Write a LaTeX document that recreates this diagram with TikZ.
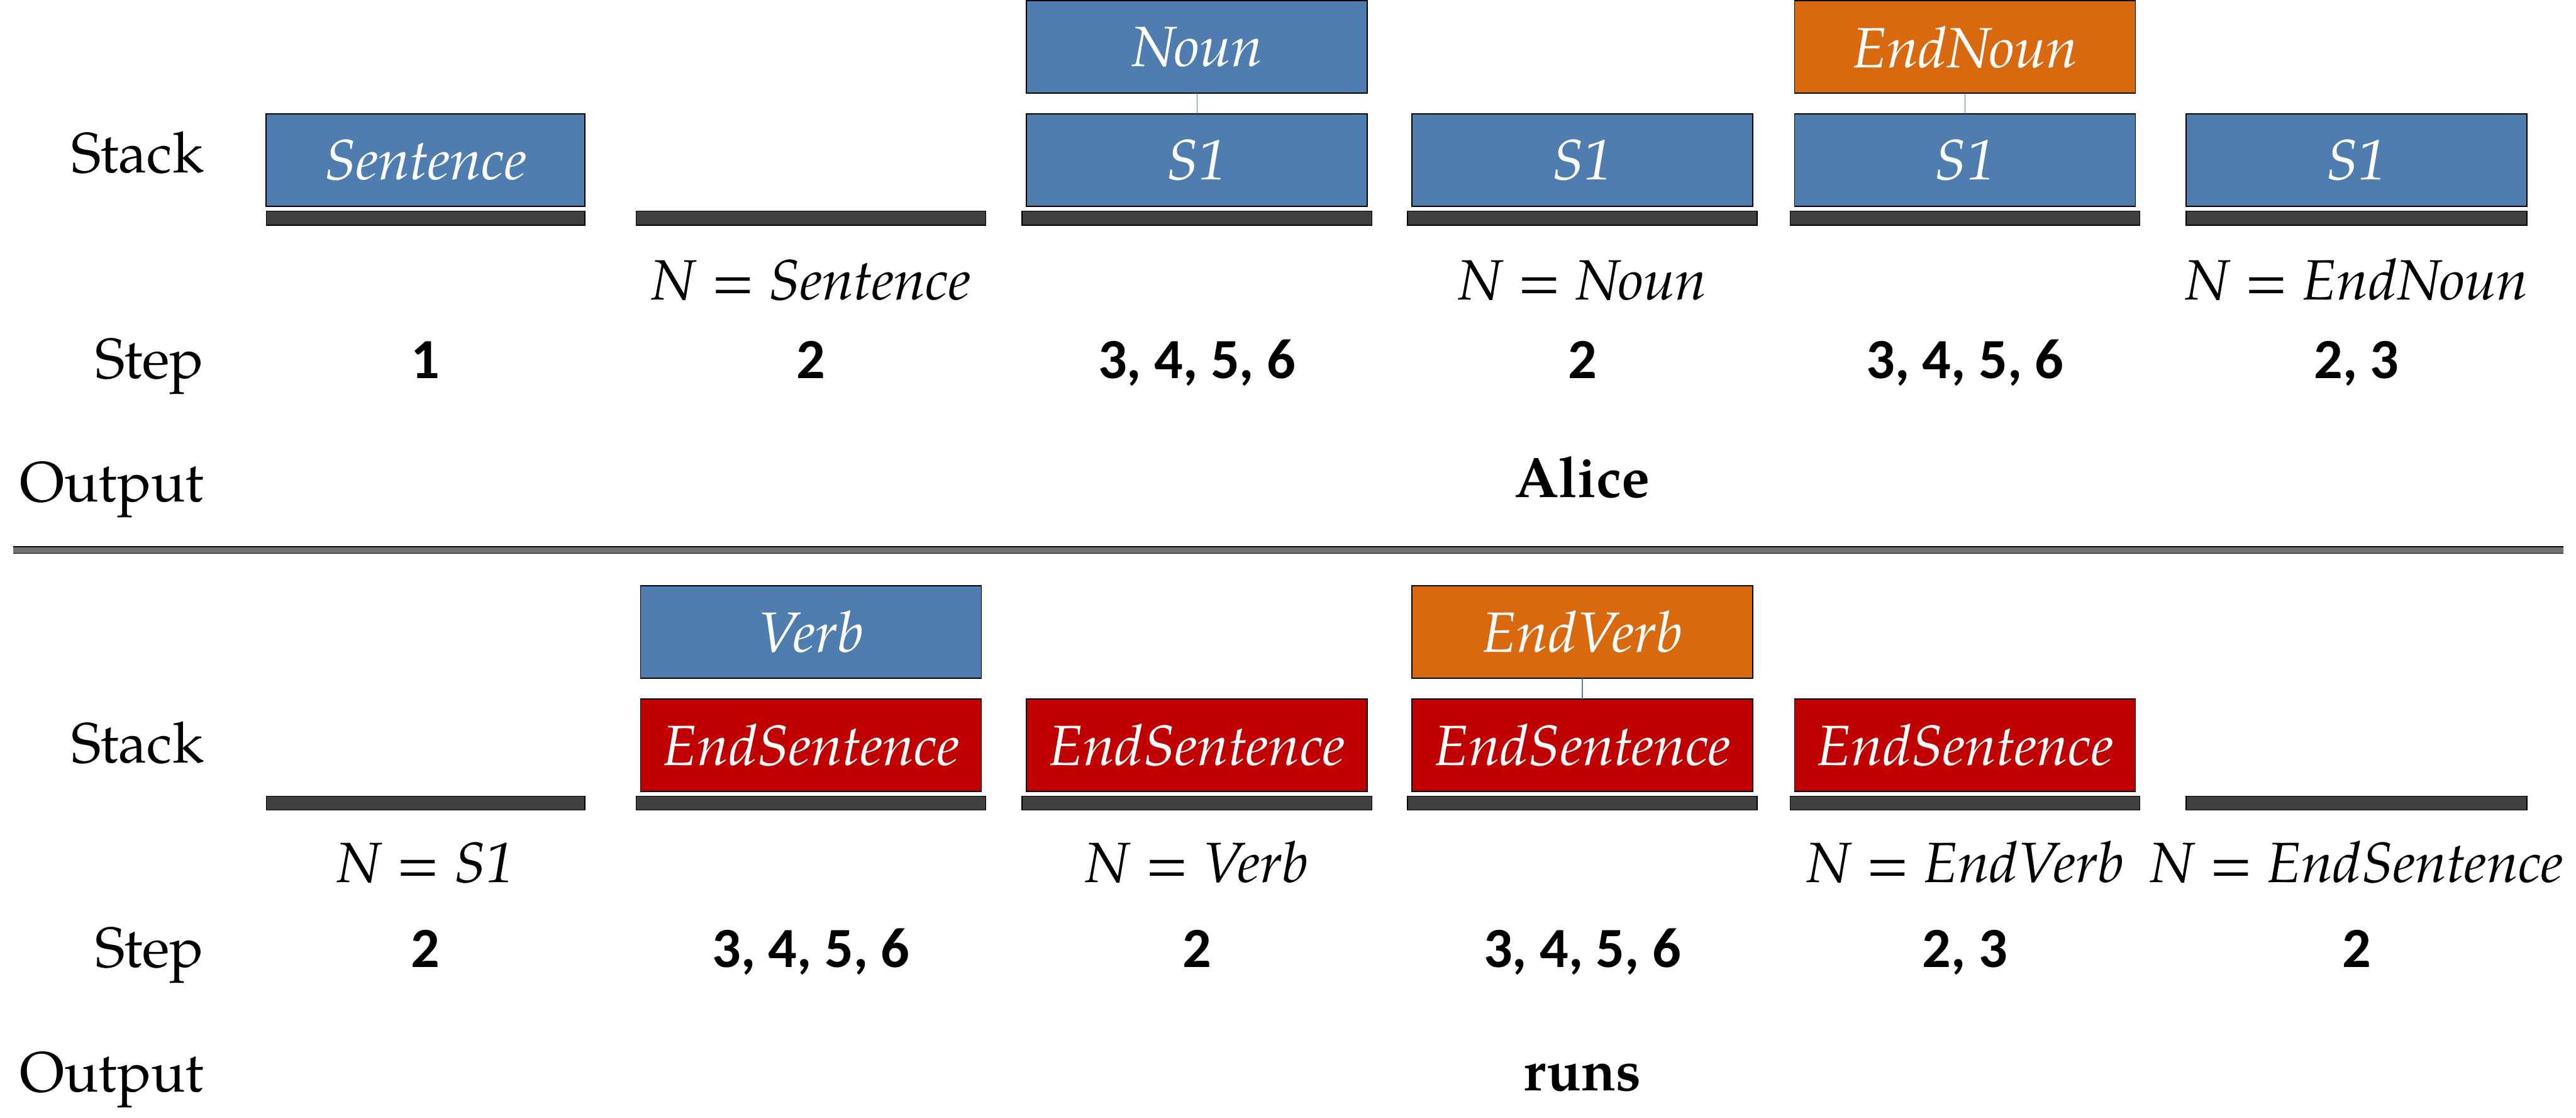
\documentclass[tikz,border=0pt]{standalone}
\usepackage{fontspec}
\setmainfont{texgyrepagella}[Extension=.otf, UprightFont=*-regular, ItalicFont=*-italic, BoldFont=*-bold, BoldItalicFont=*-bolditalic]
\newfontfamily\carlito{Carlito}
\usetikzlibrary{positioning}
\definecolor{symblue}{RGB}{79,125,175}
\definecolor{endorange}{RGB}{217,105,14}
\definecolor{endred}{RGB}{192,0,0}
\definecolor{bardark}{RGB}{64,64,64}
\definecolor{rulegray}{RGB}{115,115,115}
\definecolor{linkblue}{RGB}{79,129,189}
\newcommand{\bigsize}{\fontsize{29}{34}\selectfont}

\begin{document}
\begin{tikzpicture}[
    every node/.style={inner sep=0pt, outer sep=0pt},
    stackbox/.style={rectangle, draw=black, line width=0.6pt, minimum width=6.12cm, minimum height=1.66cm, text=white, font=\bigsize\itshape},
    ntbox/.style={stackbox, fill=symblue},
    endbox/.style={stackbox, fill=endorange},
    sentbox/.style={stackbox, fill=endred},
    basebar/.style={rectangle, draw=black, line width=0.5pt, fill=bardark, minimum width=6.28cm, minimum height=0.25cm},
    link/.style={draw=linkblue, line width=0.4pt},
    rowlabel/.style={anchor=base east, font=\bigsize},
    nlabel/.style={anchor=base, font=\bigsize},
    steplabel/.style={anchor=base, font=\bigsize\carlito\bfseries},
    outlabel/.style={anchor=base, font=\bigsize\bfseries}
]
\useasboundingbox (0,0) rectangle (46.25,-20.06);

% Top half - row labels
\node[rowlabel] (stacka) at (3.66,-3.10) {Stack};
\node[rowlabel] (stepa) at (3.66,-6.79) {Step};
\node[rowlabel] (outa) at (3.66,-9.00) {Output};

% Top half - stacks
\node[ntbox, minimum width=5.72cm] (sentence) at (7.64,-2.87) {Sentence};
\node[ntbox] (noun) at (21.49,-0.845) {Noun};
\node[ntbox] (s1a) at (21.49,-2.87) {S1};
\node[ntbox] (s1b) at (28.41,-2.87) {S1};
\node[endbox] (endnoun) at (35.28,-0.845) {EndNoun};
\node[ntbox] (s1c) at (35.28,-2.87) {S1};
\node[ntbox] (s1d) at (42.31,-2.87) {S1};
\draw[link] (noun) -- (s1a);
\draw[link] (endnoun) -- (s1c);

% Top half - stack bottoms
\node[basebar, minimum width=5.72cm] (bara1) at (7.64,-3.915) {};
\node[basebar] (bara2) at (14.56,-3.915) {};
\node[basebar] (bara3) at (21.49,-3.915) {};
\node[basebar] (bara4) at (28.41,-3.915) {};
\node[basebar] (bara5) at (35.28,-3.915) {};
\node[basebar, minimum width=6.12cm] (bara6) at (42.31,-3.915) {};

% Top half - popped symbols, steps, output
\node[nlabel] (na2) at (14.56,-5.38) {\textit{N} = \textit{Sentence}};
\node[nlabel] (na4) at (28.41,-5.38) {\textit{N} = \textit{Noun}};
\node[nlabel] (na6) at (42.31,-5.38) {\textit{N} = \textit{EndNoun}};
\node[steplabel] (sa1) at (7.64,-6.79) {1};
\node[steplabel] (sa2) at (14.56,-6.79) {2};
\node[steplabel] (sa3) at (21.49,-6.79) {3, 4, 5, 6};
\node[steplabel] (sa4) at (28.41,-6.79) {2};
\node[steplabel] (sa5) at (35.28,-6.79) {3, 4, 5, 6};
\node[steplabel] (sa6) at (42.31,-6.79) {2, 3};
\node[outlabel] (alice) at (28.41,-8.93) {Alice};

% Divider
\fill[rulegray] (0.24,-9.80) rectangle (46.02,-9.94);
\draw[line width=0.02cm] (0.24,-9.81) -- (46.02,-9.81);
\draw[line width=0.02cm] (0.24,-9.93) -- (46.02,-9.93);

% Bottom half - row labels
\node[rowlabel] (stackb) at (3.66,-13.69) {Stack};
\node[rowlabel] (stepb) at (3.66,-17.36) {Step};
\node[rowlabel] (outb) at (3.66,-19.60) {Output};

% Bottom half - stacks
\node[ntbox] (verb) at (14.56,-11.34) {Verb};
\node[sentbox] (endsa) at (14.56,-13.37) {EndSentence};
\node[sentbox] (endsb) at (21.49,-13.37) {EndSentence};
\node[endbox] (endverb) at (28.41,-11.34) {EndVerb};
\node[sentbox] (endsc) at (28.41,-13.37) {EndSentence};
\node[sentbox] (endsd) at (35.28,-13.37) {EndSentence};
\draw[link] (endverb) -- (endsc);

% Bottom half - stack bottoms
\node[basebar, minimum width=5.72cm] (barb1) at (7.64,-14.415) {};
\node[basebar] (barb2) at (14.56,-14.415) {};
\node[basebar] (barb3) at (21.49,-14.415) {};
\node[basebar] (barb4) at (28.41,-14.415) {};
\node[basebar] (barb5) at (35.28,-14.415) {};
\node[basebar, minimum width=6.12cm] (barb6) at (42.31,-14.415) {};

% Bottom half - popped symbols, steps, output
\node[nlabel] (nb1) at (7.64,-15.84) {\textit{N} = \textit{S1}};
\node[nlabel] (nb3) at (21.49,-15.84) {\textit{N} = \textit{Verb}};
\node[nlabel] (nb5) at (35.28,-15.84) {\textit{N} = \textit{EndVerb}};
\node[nlabel] (nb6) at (42.31,-15.84) {\textit{N} = \textit{EndSentence}};
\node[steplabel] (sb1) at (7.64,-17.36) {2};
\node[steplabel] (sb2) at (14.56,-17.36) {3, 4, 5, 6};
\node[steplabel] (sb3) at (21.49,-17.36) {2};
\node[steplabel] (sb4) at (28.41,-17.36) {3, 4, 5, 6};
\node[steplabel] (sb5) at (35.28,-17.36) {2, 3};
\node[steplabel] (sb6) at (42.31,-17.36) {2};
\node[outlabel] (runs) at (28.41,-19.57) {runs};

\end{tikzpicture}
\end{document}
